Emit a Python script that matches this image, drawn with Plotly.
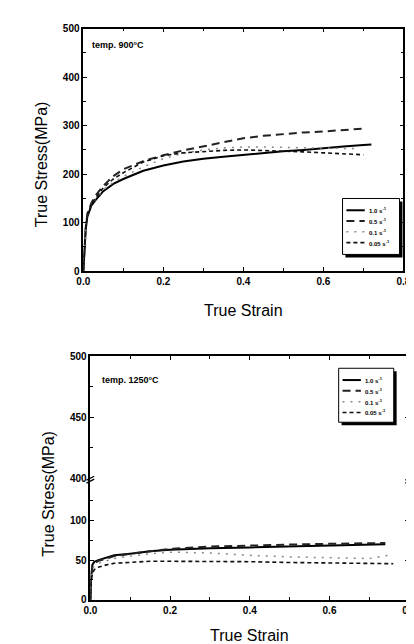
import plotly.graph_objects as go

W, H = 414, 644

# ---------------- data: 900 C ----------------
strain_900_a = [0, 0.003, 0.006, 0.01, 0.02, 0.03, 0.05, 0.075, 0.1, 0.15, 0.2, 0.25, 0.3, 0.35, 0.4, 0.45, 0.5, 0.55, 0.6, 0.65, 0.7, 0.72]
stress_900_10 = [0, 50, 85, 112, 135, 146, 165, 180, 190, 207, 218, 226, 232, 236, 240, 244, 247, 250, 254, 257, 260, 261]
strain_900_b = [0, 0.003, 0.006, 0.01, 0.02, 0.03, 0.05, 0.075, 0.1, 0.15, 0.2, 0.25, 0.3, 0.35, 0.4, 0.45, 0.5, 0.55, 0.6, 0.65, 0.7]
stress_900_05 = [0, 55, 90, 118, 140, 155, 176, 196, 210, 227, 239, 249, 257, 266, 274, 279, 283, 286, 288, 291, 294]
strain_900_c = [0, 0.003, 0.006, 0.01, 0.02, 0.03, 0.05, 0.075, 0.1, 0.15, 0.2, 0.25, 0.3, 0.35, 0.4, 0.45, 0.5, 0.55, 0.6, 0.65, 0.68]
stress_900_01 = [0, 52, 88, 115, 137, 148, 168, 183, 195, 215, 232, 243, 250, 254, 256, 256, 255, 254, 254, 253, 253]
strain_900_d = [0, 0.003, 0.006, 0.01, 0.02, 0.03, 0.05, 0.075, 0.1, 0.15, 0.2, 0.25, 0.3, 0.35, 0.4, 0.45, 0.5, 0.55, 0.6, 0.65, 0.7]
stress_900_005 = [0, 52, 88, 115, 138, 150, 172, 190, 203, 225, 238, 244, 247, 249, 250, 249, 248, 246, 244, 242, 240]

# ---------------- data: 1250 C ----------------
strain_1250_a = [0, 0.002, 0.005, 0.01, 0.02, 0.04, 0.06, 0.1, 0.15, 0.2, 0.3, 0.4, 0.5, 0.6, 0.7, 0.74]
stress_1250_10 = [0, 30, 44, 48, 50, 53, 56, 58, 61, 63, 65, 66, 67, 68, 69.5, 70]
strain_1250_b = [0, 0.002, 0.005, 0.01, 0.02, 0.04, 0.06, 0.1, 0.15, 0.2, 0.3, 0.4, 0.5, 0.6, 0.7, 0.74]
stress_1250_05 = [0, 28, 42, 46, 49, 52, 55, 58, 61, 64, 67, 68.5, 69.5, 70.5, 71, 71.5]
strain_1250_c = [0, 0.002, 0.005, 0.01, 0.02, 0.04, 0.06, 0.1, 0.15, 0.2, 0.3, 0.4, 0.5, 0.6, 0.7, 0.76]
stress_1250_01 = [0, 25, 38, 43, 46, 49, 52, 55, 58, 60, 59, 56, 54, 53, 52, 57]
strain_1250_d = [0, 0.002, 0.005, 0.01, 0.02, 0.04, 0.06, 0.1, 0.15, 0.2, 0.3, 0.4, 0.5, 0.6, 0.7, 0.76]
stress_1250_005 = [0, 22, 33, 38, 41, 44, 46, 47.5, 48.5, 48.5, 48.5, 48, 47, 46.5, 46, 45.5]

rate_labels = ["1.0 s<sup>-1</sup>", "0.5 s<sup>-1</sup>", "0.1 s<sup>-1</sup>", "0.05 s<sup>-1</sup>"]
x_ticks = [0, 0.2, 0.4, 0.6, 0.8]
x_ticktext = ["0.0", "0.2", "0.4", "0.6", "0.8"]

styles = [
    dict(color="black", width=2, dash="solid"),
    dict(color="#222222", width=2, dash="8px,5px"),
    dict(color="#888888", width=1.5, dash="2px,6px"),
    dict(color="#111111", width=1.6, dash="4px,3px"),
]

def px(x): return x / W
def py(y): return 1 - y / H

fig = go.Figure()

top_sets = [(strain_900_a, stress_900_10), (strain_900_b, stress_900_05),
            (strain_900_c, stress_900_01), (strain_900_d, stress_900_005)]
for (sx, sy), st, lab in zip(top_sets, styles, rate_labels):
    fig.add_trace(go.Scatter(x=sx, y=sy, mode="lines", line=st, name=lab,
                             xaxis="x", yaxis="y", showlegend=False))

bot_sets = [(strain_1250_a, stress_1250_10), (strain_1250_b, stress_1250_05),
            (strain_1250_c, stress_1250_01), (strain_1250_d, stress_1250_005)]
for (sx, sy), st, lab in zip(bot_sets, styles, rate_labels):
    fig.add_trace(go.Scatter(x=sx, y=sy, mode="lines", line=st, name=lab,
                             xaxis="x2", yaxis="y2", showlegend=False))

# empty trace so the upper (broken) segment of the lower chart is drawn
fig.add_trace(go.Scatter(x=[], y=[], xaxis="x3", yaxis="y3", showlegend=False))

tickfont = dict(family="Liberation Sans, Arial", size=10, color="black", weight="bold")
axcommon = dict(showline=True, linecolor="black", linewidth=1.5, mirror="ticks",
                ticks="inside", ticklen=4, tickwidth=1.2, tickcolor="black",
                showgrid=False, zeroline=False, tickfont=tickfont)
minor_x = dict(dtick=0.1, ticks="inside", ticklen=3, tickcolor="black")

fig.update_layout(
    width=W, height=H, margin=dict(l=0, r=0, t=0, b=0),
    paper_bgcolor="white", plot_bgcolor="white", showlegend=False,
    xaxis=dict(domain=[px(70.7), px(402)], range=[0, 0.8], anchor="y",
               tickvals=x_ticks, ticktext=x_ticktext, minor=minor_x, **axcommon),
    yaxis=dict(domain=[py(262), py(15)], range=[0, 500], anchor="x", dtick=100,
               minor=dict(dtick=50, ticks="inside", ticklen=3, tickcolor="black"), **axcommon),
    xaxis2=dict(domain=[px(78), px(408)], range=[0, 0.8], anchor="y2",
                tickvals=x_ticks, ticktext=x_ticktext, minor=minor_x,
                **{**axcommon, "mirror": False}),
    yaxis2=dict(domain=[py(597), py(473)], range=[0, 153], anchor="x2",
                tickvals=[0, 50, 100],
                minor=dict(tickvals=[25, 75, 125], ticks="inside", ticklen=3, tickcolor="black"),
                **axcommon),
    xaxis3=dict(domain=[px(78), px(408)], range=[0, 0.8], anchor="y3", side="top",
                tickvals=x_ticks, showticklabels=False, minor=minor_x,
                **{**axcommon, "mirror": False}),
    yaxis3=dict(domain=[py(473), py(349)], range=[400, 500], anchor="x2",
                tickvals=[400, 450, 500],
                minor=dict(tickvals=[425, 475], ticks="inside", ticklen=3, tickcolor="black"),
                **axcommon),
)

titlefont = dict(family="Liberation Sans, Arial", size=16, color="black")
annos = [
    dict(x=px(27), y=py(153), text="True Stress(MPa)", textangle=-90, font=titlefont),
    dict(x=px(237), y=py(302), text="True Strain", font=titlefont),
    dict(x=px(35), y=py(489), text="True Stress(MPa)", textangle=-90, font=titlefont),
    dict(x=px(243), y=py(633), text="True Strain", font=titlefont),
    dict(x=px(78), y=py(32), text="temp. 900°C", xanchor="left",
         font=dict(family="Liberation Sans, Arial", size=9, color="black", weight="bold")),
    dict(x=px(88), y=py(373), text="temp. 1250°C", xanchor="left",
         font=dict(family="Liberation Sans, Arial", size=9, color="black", weight="bold")),
]

shapes = []
# break marks on the lower chart's y axis
for bx in (78, 408):
    for dy in (0, 3):
        shapes.append(dict(type="line", xref="paper", yref="paper",
                           x0=px(bx - 4), y0=py(475 + dy), x1=px(bx + 4), y1=py(471 + dy),
                           line=dict(color="black", width=1.3)))

# hand-built compact legends (box with drop shadow, line samples, labels)
legfont = dict(family="Liberation Sans, Arial", size=6, color="black", weight="bold")
def add_legend(x0, y0, x1, y1, rows, sx0, sx1, tx):
    shapes.append(dict(type="rect", xref="paper", yref="paper",
                       x0=px(x0 + 3), y0=py(y1 + 3), x1=px(x1 + 3), y1=py(y0 + 3),
                       fillcolor="black", line=dict(width=0)))
    shapes.append(dict(type="rect", xref="paper", yref="paper",
                       x0=px(x0), y0=py(y1), x1=px(x1), y1=py(y0),
                       fillcolor="white", line=dict(color="black", width=1)))
    for ry, st, lab in zip(rows, styles, rate_labels):
        shapes.append(dict(type="line", xref="paper", yref="paper",
                           x0=px(sx0), y0=py(ry), x1=px(sx1), y1=py(ry),
                           line=dict(color=st["color"], width=st["width"], dash=st["dash"])))
        annos.append(dict(x=px(tx), y=py(ry), text=lab, xanchor="left", font=legfont))

add_legend(339, 188, 398, 245, [200, 211, 222, 233], 343, 362, 364)
add_legend(335, 361, 392, 416, [373, 384, 395, 406], 339, 358, 360)

for a in annos:
    a.setdefault("xanchor", "center")
    fig.add_annotation(xref="paper", yref="paper", showarrow=False, yanchor="middle", **a)
fig.update_layout(shapes=shapes)

fig.write_html("out.html")
